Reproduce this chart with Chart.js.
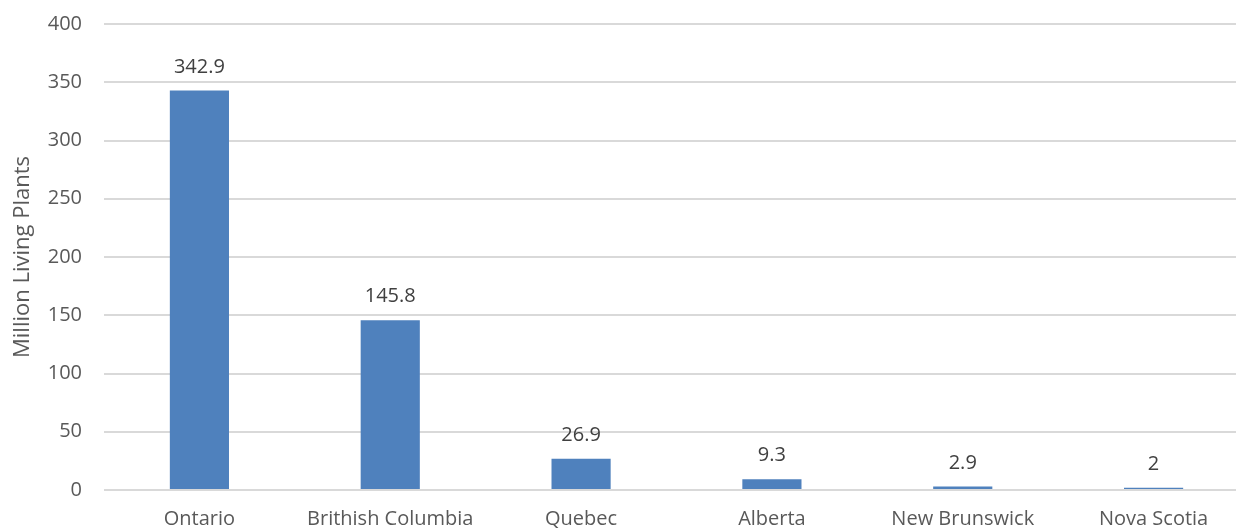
<!DOCTYPE html>
<html>
<head>
<meta charset="utf-8">
<script src="https://cdn.jsdelivr.net/npm/chart.js@4"></script>
<style>
  html, body { margin:0; padding:0; background:#fff; overflow:hidden; }
  #wrap { width:1236px; height:530px; overflow:hidden; }
</style>
</head>
<body>
<div id="wrap"><canvas id="plantsChart" width="1249" height="530"></canvas></div>
<script>
// data
const provinces = ['Ontario', 'Brithish Columbia', 'Quebec', 'Alberta', 'New Brunswick', 'Nova Scotia'];
const livingPlants = [342.9, 145.8, 26.9, 9.3, 2.9, 2];
const yTicks = [0, 50, 100, 150, 200, 250, 300, 350, 400];

const FONT = '"Open Sans", sans-serif';

// value labels over each bar
const barValues = {
    id: 'barValues',
    afterDatasetsDraw(chart) {
        const ctx = chart.ctx;
        const meta = chart.getDatasetMeta(0);
        ctx.save();
        ctx.font = '20px ' + FONT;
        ctx.fillStyle = '#404040';
        ctx.textAlign = 'center';
        ctx.textBaseline = 'alphabetic';
        meta.data.forEach((bar, i) => {
            ctx.fillText(String(livingPlants[i]), bar.x, bar.y - 18);
        });
        ctx.restore();
    }
};

new Chart(document.getElementById('plantsChart'), {
    type: 'bar',
    data: {
        labels: provinces,
        datasets: [{
            data: livingPlants,
            backgroundColor: '#4f81bd',
            barPercentage: 0.31,
            categoryPercentage: 1
        }]
    },
    options: {
        responsive: false,
        animation: false,
        layout: { padding: { top: 24, right: 0, left: 0, bottom: 0 } },
        plugins: { legend: { display: false }, tooltip: { enabled: false } },
        scales: {
            x: {
                grid: { display: false, drawTicks: false },
                border: { display: false },
                ticks: { color: '#595959', font: { family: FONT, size: 20 }, padding: 17, maxRotation: 0 },
                afterFit(scale) { scale.height = 40; scale.paddingLeft = 0; scale.paddingRight = 0; }
            },
            y: {
                min: 0,
                max: 400,
                afterBuildTicks(scale) { scale.ticks = yTicks.map(v => ({ value: v })); },
                grid: { color: '#d9d9d9', lineWidth: 2, drawTicks: false },
                border: { display: false },
                ticks: { color: '#595959', font: { family: FONT, size: 20 }, padding: 22 },
                title: { display: true, text: 'Million Living Plants', color: '#595959', font: { family: FONT, size: 22 }, padding: { top: 10, bottom: 0 } },
                afterFit(scale) { scale.width = 104; scale.paddingTop = 0; scale.paddingBottom = 0; }
            }
        }
    },
    plugins: [barValues]
});
</script>
</body>
</html>
